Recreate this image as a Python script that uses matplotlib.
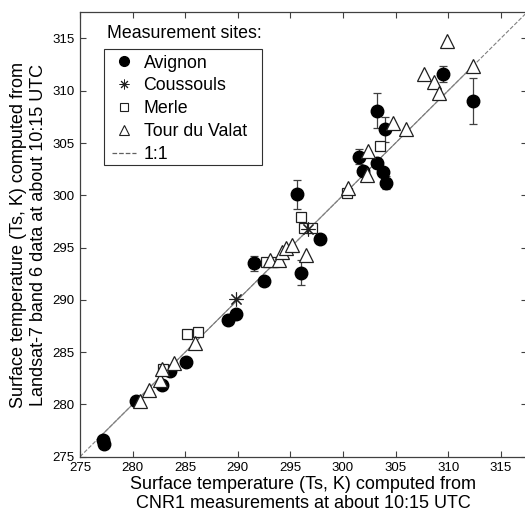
import numpy as np
import matplotlib.pyplot as plt
from matplotlib.lines import Line2D
from matplotlib.patches import Rectangle

plt.rcParams['font.family'] = ['Liberation Sans', 'DejaVu Sans']

# Avignon (filled circles, with error bars)
avi_x = [277.2, 277.3, 280.3, 282.8, 283.6, 285.1, 289.1, 289.8, 291.5, 292.5,
         296.0, 295.6, 297.8, 301.5, 301.9, 303.2, 303.8, 304.1, 303.2, 304.0,
         309.5, 312.4]
avi_y = [276.6, 276.2, 280.3, 281.9, 283.2, 284.1, 288.1, 288.6, 293.5, 291.8,
         292.6, 300.1, 295.8, 303.7, 302.3, 303.1, 302.2, 301.2, 308.1, 306.3,
         311.6, 309.0]
avi_err = [0.2, 0.2, 0.1, 0.2, 0.2, 0.1, 0.2, 0.4, 0.7, 0.2,
           1.2, 1.4, 0.2, 0.7, 0.3, 0.5, 0.3, 0.6, 1.7, 1.2,
           0.8, 2.2]

# Coussouls (asterisk)
cou_x = [289.8, 296.7]
cou_y = [290.1, 296.8]

# Merle (open squares)
mer_x = [282.9, 285.2, 286.2, 292.7, 293.4, 296.0, 296.3, 297.1, 300.4, 303.5]
mer_y = [283.4, 286.7, 286.9, 293.6, 293.6, 297.9, 296.9, 296.9, 300.2, 304.7]

# Tour du Valat (open triangles)
tdv_x = [280.7, 281.6, 282.6, 282.8, 283.9, 285.9, 293.1, 293.9, 294.2, 294.6,
         295.2, 296.5, 300.5, 302.3, 302.4, 304.8, 306.0, 307.7, 308.7, 309.1,
         309.9, 312.4]
tdv_y = [280.3, 281.4, 282.3, 283.4, 284.0, 285.9, 293.8, 293.8, 294.6, 295.0,
         295.2, 294.3, 300.7, 301.9, 304.2, 306.9, 306.3, 311.6, 310.8, 309.8,
         314.8, 312.4]

lims = [275, 317.5]
ticks = np.arange(275, 316, 5)

fig = plt.figure(figsize=(5.25, 5.14), dpi=100)
ax = fig.add_axes([80 / 525, (514 - 456.7) / 514, 447 / 525, 444.4 / 514])

edge = '#202020'
ax.plot(lims, lims, '--', color='#808080', lw=0.8, zorder=1)
fit = [min(avi_x + tdv_x + mer_x), max(avi_x + tdv_x + mer_x)]
ax.plot(fit, fit, '-', color='#808080', lw=0.8, zorder=1)

ax.errorbar(avi_x, avi_y, yerr=avi_err, fmt='o', ms=9, mfc='black', mec='black',
            ecolor='#404040', elinewidth=0.9, capsize=3, capthick=0.9, zorder=2)
ax.plot(mer_x, mer_y, 's', ms=7.5, mfc='white', mec=edge, mew=0.9, zorder=3)
ax.plot(cou_x, cou_y, ls='none', marker=(8, 2, 0), ms=10, mec=edge, mew=0.8, zorder=4)
ax.plot(tdv_x, tdv_y, '^', ms=9.5, mfc='white', mec=edge, mew=0.9, zorder=5)

ax.set_xlim(lims)
ax.set_ylim(lims)
ax.set_xticks(ticks)
ax.set_yticks(ticks)
ax.tick_params(direction='in', length=4, width=0.8, color='#404040',
               top=True, right=True, labelsize=9.5, pad=4)
for s in ax.spines.values():
    s.set_color('#404040')
    s.set_linewidth(0.9)

ax.set_xlabel('Surface temperature (Ts, K) computed from\nCNR1 measurements at about 10:15 UTC',
              fontsize=13, labelpad=1, linespacing=1.2)
ax.set_ylabel('Surface temperature (Ts, K) computed from\nLandsat-7 band 6 data at about 10:15 UTC',
              fontsize=13, labelpad=4, linespacing=1.2)

# legend box drawn by hand so it can be wider than the entries
def px_to_ax(px, py):
    return (px - 80) / 447, (456.7 - py) / 444.4

x0, y0 = px_to_ax(104, 165)
x1, y1 = px_to_ax(262, 49)
ax.add_patch(Rectangle((x0, y0), x1 - x0, y1 - y0, transform=ax.transAxes,
                       facecolor='white', edgecolor='#303030', lw=0.8, zorder=6))

handles = [
    Line2D([], [], ls='none', marker='o', ms=7, mfc='black', mec='black'),
    Line2D([], [], ls='none', marker=(8, 2, 0), ms=7, mec=edge, mew=0.7),
    Line2D([], [], ls='none', marker='s', ms=6, mfc='white', mec=edge, mew=0.8),
    Line2D([], [], ls='none', marker='^', ms=7, mfc='white', mec=edge, mew=0.8),
    Line2D([], [], ls='--', color='#606060', lw=0.9),
]
labels = ['Avignon', 'Coussouls', 'Merle', 'Tour du Valat', '1:1']
lx, ly = px_to_ax(108, 51)
leg = ax.legend(handles, labels, loc='upper left', bbox_to_anchor=(lx, ly),
                borderaxespad=0, fontsize=12.8, frameon=False,
                handlelength=1.4, handletextpad=0.4,
                labelspacing=0.33, borderpad=0.2)
leg.set_zorder(7)
tx, ty = px_to_ax(107, 33)
ax.text(tx, ty, 'Measurement sites:', transform=ax.transAxes,
        fontsize=12.8, ha='left', va='center')

fig.savefig('out.png', dpi=100)
